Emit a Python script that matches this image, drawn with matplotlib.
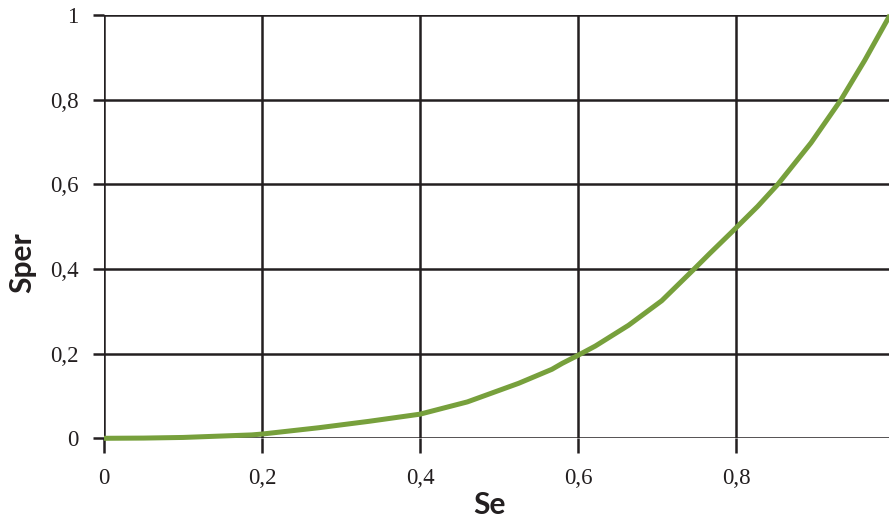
import matplotlib.pyplot as plt

# values
se = [0.0, 0.05, 0.1, 0.187, 0.2, 0.272, 0.335, 0.4, 0.46, 0.525, 0.567,
      0.58, 0.6, 0.622, 0.664, 0.706, 0.746, 0.767, 0.794, 0.8275, 0.853,
      0.895, 0.933, 0.963, 0.995]
sper = [0.0, 0.0005, 0.002, 0.008, 0.01, 0.025, 0.04, 0.057, 0.086, 0.13,
        0.163, 0.177, 0.196, 0.218, 0.267, 0.325, 0.398, 0.437, 0.486, 0.548,
        0.6, 0.698, 0.8, 0.893, 1.0]

ticks = [0, 0.2, 0.4, 0.6, 0.8, 1]
tick_labels = ['0', '0,2', '0,4', '0,6', '0,8', '1']

ink = '#231f20'
green = '#77a03c'

fig = plt.figure(figsize=(8.89, 5.19), dpi=100)
ax = fig.add_axes([0.117, 0.1555, 0.8886, 0.8156])

ax.plot(se, sper, color=green, lw=3.6, clip_on=False, zorder=3,
        solid_capstyle='butt', solid_joinstyle='round')

ax.set_xlim(0, 1)
ax.set_ylim(0, 1)
ax.set_xticks(ticks)
ax.set_xticklabels(tick_labels)
ax.set_yticks(ticks)
ax.set_yticklabels(tick_labels)

for s in ax.spines.values():
    s.set_visible(False)
ax.set_axisbelow(True)
ax.grid(True, color=ink, lw=1.8)

serif = 'Liberation Serif'
ax.tick_params(axis='x', direction='out', length=10.8, width=1.8, color=ink,
               pad=10.5, labelsize=16.5, labelcolor=ink)
ax.tick_params(axis='y', direction='out', length=7.9, width=1.8, color=ink,
               pad=10.5, labelsize=16.5, labelcolor=ink)
for lab in ax.get_xticklabels() + ax.get_yticklabels():
    lab.set_family(serif)

fig.text(490 / 889, 1 - 514 / 519, 'Se', ha='center', va='baseline',
         fontsize=21.5, fontweight='bold', family='Lato', color=ink)
fig.text(22 / 889, 1 - 263 / 519, 'Sper', ha='center', va='center',
         rotation=90, fontsize=21.5, fontweight='bold', family='Lato', color=ink)

fig.savefig('out.png', dpi=100)
